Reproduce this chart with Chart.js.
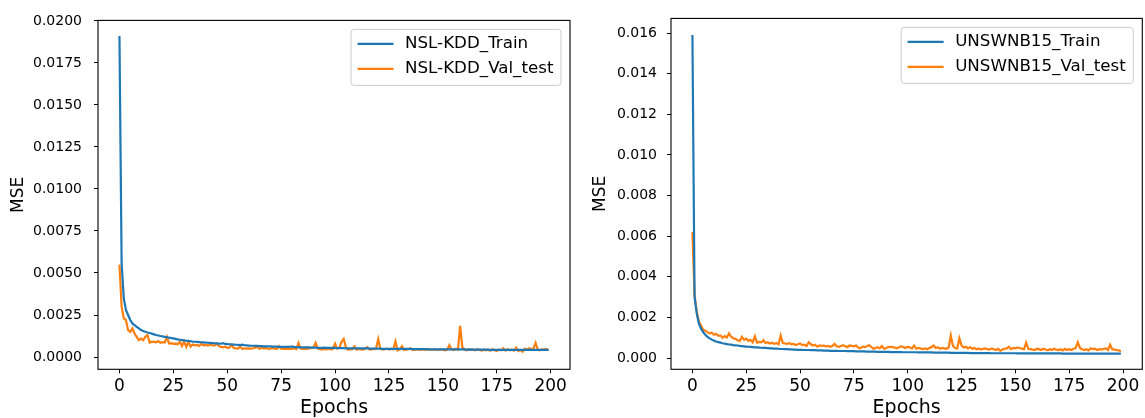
<!DOCTYPE html>
<html>
<head>
<meta charset="utf-8">
<script src="https://cdn.jsdelivr.net/npm/chart.js@4"></script>
<style>
html, body { margin: 0; padding: 0; background: #fff; }
#wrap { position: relative; width: 1145px; height: 418px; }
canvas { position: absolute; top: 0; }
</style>
</head>
<body>
<div id="wrap">
  <canvas id="left" width="580" height="418" style="left:0"></canvas>
  <canvas id="right" width="565" height="418" style="left:580px"></canvas>
</div>
<script>
// epochs 0..199
const epochs = Array.from({length: 200}, (_, i) => i);
const xTicks = [0, 25, 50, 75, 100, 125, 150, 175, 200];
const nslTicks = [0, 0.0025, 0.005, 0.0075, 0.01, 0.0125, 0.015, 0.0175, 0.02];
const unswTicks = [0, 0.002, 0.004, 0.006, 0.008, 0.010, 0.012, 0.014, 0.016];

const nslTrain = [
  0.0191, 0.0056, 0.0035, 0.0028, 0.0025, 0.0022, 0.0020, 0.0019, 0.0018, 0.0017,
  0.00160, 0.00155, 0.00150, 0.00146, 0.00143, 0.00139, 0.00135, 0.00131, 0.00128, 0.00125,
  0.00123, 0.00120, 0.00118, 0.00115, 0.00113, 0.00111, 0.00108, 0.00105, 0.00103, 0.00101,
  0.00099, 0.00097, 0.00096, 0.00094, 0.00092, 0.00091, 0.00090, 0.00089, 0.00088, 0.00087,
  0.00086, 0.00085, 0.00084, 0.00083, 0.00082, 0.00081, 0.00080, 0.00079, 0.00083, 0.00078,
  0.00077, 0.00076, 0.00075, 0.00074, 0.00073, 0.00072, 0.00071, 0.00074, 0.00070, 0.00069,
  0.00068, 0.00067, 0.00067, 0.00066, 0.00066, 0.00065, 0.00065, 0.00064, 0.00064, 0.00063,
  0.00063, 0.00062, 0.00062, 0.00062, 0.00061, 0.00061, 0.00061, 0.00060, 0.00060, 0.00060,
  0.00063, 0.00059, 0.00059, 0.00058, 0.00058, 0.00058, 0.00057, 0.00057, 0.00057, 0.00056,
  0.00056, 0.00056, 0.00055, 0.00055, 0.00055, 0.00056, 0.00055, 0.00054, 0.00054, 0.00054,
  0.00054, 0.00053, 0.00053, 0.00053, 0.00053, 0.00052, 0.00052, 0.00052, 0.00052, 0.00052,
  0.00051, 0.00051, 0.00051, 0.00051, 0.00051, 0.00051, 0.00050, 0.00050, 0.00050, 0.00050,
  0.00050, 0.00050, 0.00049, 0.00049, 0.00049, 0.00049, 0.00049, 0.00049, 0.00049, 0.00048,
  0.00048, 0.00048, 0.00048, 0.00048, 0.00048, 0.00048, 0.00047, 0.00047, 0.00047, 0.00047,
  0.00047, 0.00047, 0.00047, 0.00046, 0.00046, 0.00046, 0.00046, 0.00046, 0.00046, 0.00046,
  0.00046, 0.00045, 0.00045, 0.00045, 0.00045, 0.00045, 0.00045, 0.00045, 0.00045, 0.00045,
  0.00045, 0.00044, 0.00044, 0.00046, 0.00044, 0.00044, 0.00044, 0.00044, 0.00044, 0.00044,
  0.00044, 0.00044, 0.00043, 0.00043, 0.00043, 0.00043, 0.00043, 0.00043, 0.00043, 0.00043,
  0.00043, 0.00043, 0.00043, 0.00043, 0.00042, 0.00042, 0.00042, 0.00042, 0.00042, 0.00042,
  0.00042, 0.00042, 0.00042, 0.00042, 0.00042, 0.00042, 0.00042, 0.00042, 0.00042, 0.00042
];

const nslVal = [
  0.0055, 0.0030, 0.0023, 0.0022, 0.0016, 0.0015, 0.0017, 0.0014, 0.0012, 0.0010,
  0.0011, 0.0010, 0.0012, 0.0013, 0.00085, 0.00092, 0.00090, 0.00088, 0.00095, 0.00085,
  0.00088, 0.00086, 0.00120, 0.00080, 0.00082, 0.00078, 0.00080, 0.00076, 0.00090, 0.00065,
  0.00092, 0.00060, 0.00090, 0.00062, 0.00075, 0.00070, 0.00072, 0.00066, 0.00078, 0.00070,
  0.00072, 0.00068, 0.00075, 0.00070, 0.00068, 0.00080, 0.00066, 0.00060, 0.00058, 0.00062,
  0.00055, 0.00056, 0.00072, 0.00054, 0.00052, 0.00050, 0.00062, 0.00048, 0.00052, 0.00050,
  0.00052, 0.00050, 0.00052, 0.00056, 0.00060, 0.00048, 0.00056, 0.00050, 0.00054, 0.00048,
  0.00050, 0.00054, 0.00050, 0.00048, 0.00064, 0.00050, 0.00048, 0.00050, 0.00048, 0.00050,
  0.00048, 0.00052, 0.00046, 0.00084, 0.00050, 0.00048, 0.00050, 0.00048, 0.00052, 0.00054,
  0.00056, 0.00084, 0.00050, 0.00046, 0.00044, 0.00048, 0.00046, 0.00050, 0.00046, 0.00048,
  0.00080, 0.00050, 0.00056, 0.00090, 0.00107, 0.00060, 0.00044, 0.00046, 0.00048, 0.00064,
  0.00044, 0.00048, 0.00046, 0.00044, 0.00050, 0.00058, 0.00044, 0.00046, 0.00048, 0.00050,
  0.00107, 0.00048, 0.00044, 0.00046, 0.00050, 0.00044, 0.00048, 0.00046, 0.00093, 0.00040,
  0.00046, 0.00064, 0.00042, 0.00044, 0.00046, 0.00052, 0.00042, 0.00044, 0.00046, 0.00042,
  0.00044, 0.00046, 0.00042, 0.00048, 0.00044, 0.00042, 0.00046, 0.00044, 0.00042, 0.00046,
  0.00044, 0.00040, 0.00044, 0.00070, 0.00046, 0.00042, 0.00050, 0.00044, 0.00186, 0.00060,
  0.00044, 0.00040, 0.00046, 0.00042, 0.00044, 0.00040, 0.00046, 0.00042, 0.00038, 0.00044,
  0.00040, 0.00044, 0.00038, 0.00046, 0.00040, 0.00036, 0.00044, 0.00040, 0.00052, 0.00038,
  0.00046, 0.00040, 0.00044, 0.00038, 0.00056, 0.00036, 0.00042, 0.00032, 0.00050, 0.00044,
  0.00052, 0.00046, 0.00050, 0.00084, 0.00044, 0.00040, 0.00046, 0.00044, 0.00048, 0.00040
];

const unswTrain = [
  0.0159, 0.0030, 0.0022, 0.0017, 0.00145, 0.00128, 0.00115, 0.00104, 0.00097, 0.00091,
  0.00086, 0.00082, 0.00079, 0.00076, 0.00073, 0.00071, 0.00069, 0.00067, 0.00066, 0.00064,
  0.00063, 0.00062, 0.00060, 0.00059, 0.00058, 0.00057, 0.00056, 0.00055, 0.00054, 0.00053,
  0.00053, 0.00052, 0.00051, 0.00050, 0.00050, 0.00049, 0.00048, 0.00048, 0.00047, 0.00047,
  0.00046, 0.00045, 0.00045, 0.00044, 0.00044, 0.00043, 0.00043, 0.00042, 0.00042, 0.00041,
  0.00041, 0.00041, 0.00040, 0.00040, 0.00040, 0.00039, 0.00039, 0.00039, 0.00038, 0.00038,
  0.00038, 0.00037, 0.00037, 0.00037, 0.00036, 0.00036, 0.00036, 0.00036, 0.00035, 0.00035,
  0.00035, 0.00035, 0.00034, 0.00034, 0.00034, 0.00034, 0.00033, 0.00033, 0.00033, 0.00033,
  0.00033, 0.00032, 0.00032, 0.00032, 0.00032, 0.00032, 0.00031, 0.00031, 0.00031, 0.00031,
  0.00031, 0.00031, 0.00030, 0.00030, 0.00030, 0.00030, 0.00030, 0.00030, 0.00029, 0.00029,
  0.00029, 0.00029, 0.00029, 0.00029, 0.00029, 0.00028, 0.00028, 0.00028, 0.00028, 0.00028,
  0.00028, 0.00028, 0.00027, 0.00027, 0.00027, 0.00027, 0.00027, 0.00027, 0.00027, 0.00027,
  0.00026, 0.00026, 0.00026, 0.00026, 0.00026, 0.00026, 0.00026, 0.00026, 0.00026, 0.00025,
  0.00025, 0.00025, 0.00025, 0.00025, 0.00025, 0.00025, 0.00025, 0.00025, 0.00025, 0.00024,
  0.00024, 0.00024, 0.00024, 0.00024, 0.00024, 0.00024, 0.00024, 0.00024, 0.00024, 0.00024,
  0.00024, 0.00023, 0.00023, 0.00023, 0.00023, 0.00023, 0.00023, 0.00023, 0.00023, 0.00023,
  0.00023, 0.00023, 0.00023, 0.00023, 0.00023, 0.00023, 0.00023, 0.00023, 0.00023, 0.00023,
  0.00023, 0.00023, 0.00022, 0.00022, 0.00022, 0.00022, 0.00022, 0.00022, 0.00022, 0.00022,
  0.00022, 0.00022, 0.00022, 0.00022, 0.00022, 0.00022, 0.00022, 0.00022, 0.00022, 0.00022,
  0.00022, 0.00022, 0.00022, 0.00022, 0.00022, 0.00022, 0.00022, 0.00022, 0.00022, 0.00022
];

const unswVal = [
  0.0062, 0.0031, 0.0023, 0.0018, 0.0016, 0.0014, 0.00135, 0.00128, 0.00122, 0.00125,
  0.00115, 0.00120, 0.00110, 0.00112, 0.00100, 0.00108, 0.00102, 0.00122, 0.00105, 0.00098,
  0.00095, 0.00088, 0.00085, 0.00105, 0.00090, 0.00096, 0.00085, 0.00090, 0.00078, 0.00107,
  0.00076, 0.00080, 0.00078, 0.00088, 0.00074, 0.00078, 0.00072, 0.00076, 0.00070, 0.00074,
  0.00068, 0.00111, 0.00074, 0.00072, 0.00070, 0.00074, 0.00068, 0.00070, 0.00064, 0.00068,
  0.00072, 0.00064, 0.00066, 0.00060, 0.00078, 0.00068, 0.00062, 0.00066, 0.00056, 0.00062,
  0.00060, 0.00062, 0.00058, 0.00060, 0.00056, 0.00060, 0.00070, 0.00058, 0.00056, 0.00060,
  0.00064, 0.00058, 0.00054, 0.00062, 0.00060, 0.00058, 0.00062, 0.00052, 0.00048, 0.00056,
  0.00054, 0.00058, 0.00064, 0.00056, 0.00046, 0.00050, 0.00054, 0.00048, 0.00060, 0.00046,
  0.00050, 0.00054, 0.00056, 0.00054, 0.00052, 0.00048, 0.00054, 0.00058, 0.00054, 0.00050,
  0.00056, 0.00052, 0.00048, 0.00062, 0.00046, 0.00050, 0.00048, 0.00044, 0.00048, 0.00044,
  0.00050, 0.00054, 0.00062, 0.00050, 0.00054, 0.00046, 0.00050, 0.00048, 0.00046, 0.00052,
  0.00111, 0.00060, 0.00050, 0.00048, 0.00098, 0.00062, 0.00052, 0.00056, 0.00048, 0.00054,
  0.00046, 0.00050, 0.00044, 0.00048, 0.00042, 0.00046, 0.00048, 0.00044, 0.00042, 0.00048,
  0.00044, 0.00040, 0.00046, 0.00036, 0.00042, 0.00046, 0.00048, 0.00056, 0.00044, 0.00050,
  0.00048, 0.00052, 0.00050, 0.00046, 0.00044, 0.00076, 0.00046, 0.00044, 0.00042, 0.00040,
  0.00046, 0.00044, 0.00040, 0.00046, 0.00042, 0.00038, 0.00044, 0.00040, 0.00046, 0.00042,
  0.00040, 0.00044, 0.00038, 0.00046, 0.00040, 0.00044, 0.00040, 0.00046, 0.00050, 0.00078,
  0.00050, 0.00044, 0.00040, 0.00044, 0.00038, 0.00048, 0.00044, 0.00046, 0.00040, 0.00044,
  0.00042, 0.00046, 0.00048, 0.00040, 0.00066, 0.00044, 0.00042, 0.00040, 0.00038, 0.00034
];

Chart.defaults.font.family = "'DejaVu Sans', sans-serif";
Chart.defaults.color = '#000';

// black box round the plot area, like matplotlib spines
const framePlugin = {
  id: 'frame',
  afterDatasetsDraw(chart) {
    const {ctx, chartArea: a} = chart;
    ctx.save();
    ctx.strokeStyle = '#000';
    ctx.lineWidth = 1.1;
    ctx.strokeRect(a.left, a.top, a.right - a.left, a.bottom - a.top);
    ctx.restore();
  }
};

// matplotlib-style legend box in the upper right corner
const legendPlugin = {
  id: 'mplLegend',
  afterDraw(chart) {
    const {ctx, chartArea: a} = chart;
    const sets = chart.data.datasets;
    ctx.save();
    ctx.font = "16.7px 'DejaVu Sans'";
    let tw = 0;
    for (const ds of sets) tw = Math.max(tw, ctx.measureText(ds.label).width);
    const w = 54 + tw + 7.5, h = 56;
    const x = a.right - 9 - w, y = a.top + 9;
    ctx.beginPath();
    ctx.roundRect(x, y, w, h, 3);
    ctx.fillStyle = 'rgba(255,255,255,0.8)';
    ctx.fill();
    ctx.strokeStyle = '#cccccc';
    ctx.lineWidth = 1;
    ctx.stroke();
    sets.forEach((ds, i) => {
      const ry = y + 14.5 + i * 25;
      ctx.beginPath();
      ctx.moveTo(x + 6.5, ry);
      ctx.lineTo(x + 42.5, ry);
      ctx.strokeStyle = ds.borderColor;
      ctx.lineWidth = 2.2;
      ctx.stroke();
      ctx.fillStyle = '#000';
      ctx.textBaseline = 'middle';
      ctx.fillText(ds.label, x + 54, ry);
    });
    ctx.restore();
  }
};

function makeChart(id, names, train, val, yTicks, yMin, yMax, digits, lay) {
  const ctx = document.getElementById(id);
  return new Chart(ctx, {
    type: 'line',
    data: {
      datasets: [
        {label: names[0], data: train.map((v, i) => ({x: epochs[i], y: v})),
         borderColor: '#1f77b4', borderWidth: 2.2, pointRadius: 0, tension: 0},
        {label: names[1], data: val.map((v, i) => ({x: epochs[i], y: v})),
         borderColor: '#ff7f0e', borderWidth: 2.2, pointRadius: 0, tension: 0}
      ]
    },
    options: {
      responsive: false,
      animation: false,
      layout: {padding: {left: 0, top: lay.top, right: lay.right, bottom: 0}},
      plugins: {legend: {display: false}, tooltip: {enabled: false}},
      scales: {
        x: {
          type: 'linear',
          min: -9.95,
          max: 208.95,
          afterBuildTicks: s => { s.ticks = xTicks.map(v => ({value: v})); },
          afterFit: s => { s.height = 48.7; },
          grid: {drawOnChartArea: false, drawTicks: true, tickLength: 4, tickColor: '#000'},
          border: {display: false},
          ticks: {font: {size: 17, lineHeight: 1.2}, padding: 3, maxRotation: 0,
                  callback: v => String(v)},
          title: {display: true, text: 'Epochs', font: {size: 19, lineHeight: 1},
                  padding: {top: 0, bottom: 0}}
        },
        y: {
          min: yMin,
          max: yMax,
          afterBuildTicks: s => { s.ticks = yTicks.map(v => ({value: v})); },
          afterFit: s => { s.width = lay.yWidth; },
          grid: {drawOnChartArea: false, drawTicks: true, tickLength: 4, tickColor: '#000'},
          border: {display: false},
          ticks: {font: {size: 14}, padding: lay.tickPad, callback: v => v.toFixed(digits)},
          title: {display: true, text: 'MSE', font: {size: 17, lineHeight: 1},
                  padding: {top: lay.titlePad, bottom: 0}}
        }
      }
    },
    plugins: [framePlugin, legendPlugin]
  });
}

makeChart('left', ['NSL-KDD_Train', 'NSL-KDD_Val_test'], nslTrain, nslVal,
  nslTicks, -0.00073, 0.02003, 4,
  {top: 17.5, right: 10, yWidth: 98, tickPad: 12, titlePad: 10.2});

makeChart('right', ['UNSWNB15_Train', 'UNSWNB15_Val_test'], unswTrain, unswVal,
  unswTicks, -0.00055, 0.01672, 3,
  {top: 17, right: 2.7, yWidth: 91, tickPad: 10, titlePad: 12.5});
</script>
</body>
</html>
